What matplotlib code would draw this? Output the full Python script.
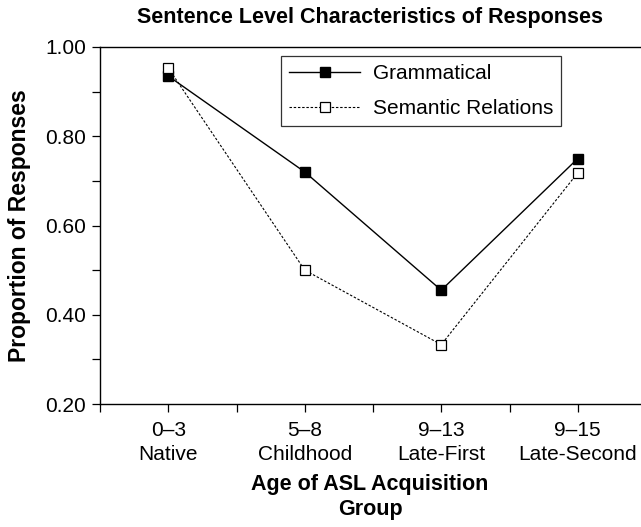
import matplotlib
matplotlib.use("Agg")
import matplotlib.pyplot as plt
from matplotlib.ticker import FixedLocator

plt.rcParams['font.family'] = ['Liberation Sans', 'DejaVu Sans']

categories = ["0\u20133\nNative", "5\u20138\nChildhood", "9\u201313\nLate-First", "9\u201315\nLate-Second"]
grammatical = [0.935, 0.72, 0.455, 0.75]
semantic = [0.953, 0.50, 0.333, 0.718]
yticks = [0.20, 0.40, 0.60, 0.80, 1.00]

W, H = 641, 527
L, R, T, B = 100, 641, 47, 404
fig = plt.figure(figsize=(W/100, H/100), dpi=100)
ax = fig.add_axes([L/W, 1 - B/H, (R-L)/W, (B-T)/H])

x = [i + 0.5 for i in range(len(categories))]
ax.plot(x, grammatical, color='black', lw=1.0, marker='s', ms=7,
        mfc='black', mec='black', label='Grammatical')
ax.plot(x, semantic, color='black', lw=0.8, ls=(0, (2.2, 1.6)), marker='s', ms=7,
        mfc='white', mec='black', mew=0.9, label='Semantic Relations')

ax.set_xlim(0, (R-L)/136.5)
ax.set_ylim(0.20, 1.00)
ax.set_xticks(x)
ax.set_xticklabels(categories, fontsize=15, linespacing=1.35)
ax.xaxis.set_minor_locator(FixedLocator([0, 1, 2, 3, 4]))
ax.set_yticks(yticks)
ax.set_yticklabels([f"{v:.2f}" for v in yticks], fontsize=15)
ax.yaxis.set_minor_locator(FixedLocator([0.3, 0.5, 0.7, 0.9]))
ax.tick_params(axis='both', which='both', direction='out', length=6, width=0.9, color='black')
ax.tick_params(axis='x', which='major', pad=6)
ax.tick_params(axis='y', which='major', pad=4)

for s in ['left', 'bottom', 'top']:
    ax.spines[s].set_linewidth(1.0)
ax.spines['right'].set_visible(False)

cx = (370 - L) / (R - L)
ax.set_title("Sentence Level Characteristics of Responses", fontsize=15.5,
             fontweight='bold', pad=17, x=cx)
ax.set_ylabel("Proportion of Responses", fontsize=16.5, fontweight='bold', labelpad=10)
ax.set_xlabel("Age of ASL Acquisition\nGroup", fontsize=15.5, fontweight='bold', labelpad=7,
              x=cx, linespacing=1.25)

leg = ax.legend(loc='upper left', bbox_to_anchor=((281-L)/(R-L), 1 - (56-T)/(B-T)),
                fontsize=15, frameon=True, fancybox=False, edgecolor='black',
                handlelength=3.4, handletextpad=0.6, borderaxespad=0,
                borderpad=0.4, labelspacing=0.75)
leg.get_frame().set_linewidth(0.9)

fig.savefig("out.png", dpi=100)
